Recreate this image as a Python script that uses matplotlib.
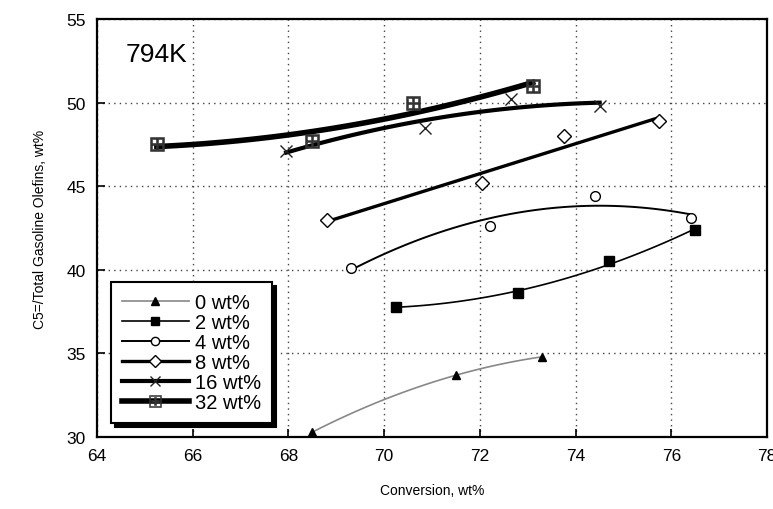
import numpy as np
import matplotlib
matplotlib.use("Agg")
import matplotlib.pyplot as plt

plt.rcParams['font.family'] = ['Liberation Sans', 'DejaVu Sans']

# conversion (wt%) and C5=/total gasoline olefins (wt%) for each additive level
labels = ['0 wt%', '2 wt%', '4 wt%', '8 wt%', '16 wt%', '32 wt%']
x_0 = [68.5, 71.5, 73.3]
y_0 = [30.3, 33.7, 34.8]
x_2 = [70.25, 72.8, 74.7, 76.5]
y_2 = [37.8, 38.6, 40.5, 42.4]
x_4 = [69.3, 72.2, 74.4, 76.4]
y_4 = [40.1, 42.6, 44.4, 43.1]
x_8 = [68.8, 72.05, 73.75, 75.75]
y_8 = [43.0, 45.2, 48.0, 48.9]
x_16 = [67.95, 70.85, 72.65, 74.5]
y_16 = [47.1, 48.5, 50.2, 49.8]
x_32 = [65.25, 68.5, 70.6, 73.1]
y_32 = [47.5, 47.7, 50.0, 51.0]

series = [
    (x_0, y_0, dict(marker='^', color='#888888', lw=1.2, mfc='black', mec='black', ms=6), 2),
    (x_2, y_2, dict(marker='s', color='black', lw=1.2, mfc='black', mec='black', ms=7), 2),
    (x_4, y_4, dict(marker='o', color='black', lw=1.4, mfc='white', mec='black', ms=7), 2),
    (x_8, y_8, dict(marker='D', color='black', lw=2.4, mfc='white', mec='black', ms=7, mew=1.0), 1),
    (x_16, y_16, dict(marker='x', color='black', lw=3.0, mfc='none', mec='#222222', ms=8, mew=1.0), 2),
    (x_32, y_32, dict(marker=r'$\boxplus$', color='black', lw=4.0, mfc='#333333', mec='#333333', ms=10, mew=0.4), 2),
]

fig = plt.figure(figsize=(7.73, 5.10), dpi=100)
ax = fig.add_axes([0.1255, 0.141, 0.867, 0.820])

handles = []
for (xs, ys, st, deg), lab in zip(series, labels):
    xs = np.array(xs)
    ys = np.array(ys)
    c = np.polyfit(xs, ys, deg)
    xf = np.linspace(xs.min(), xs.max(), 100)
    ax.plot(xf, np.polyval(c, xf), color=st['color'], lw=st['lw'], zorder=3)
    ax.plot(xs, ys, ls='none', marker=st['marker'], mfc=st['mfc'], mec=st['mec'],
            ms=st['ms'], mew=st.get('mew', 1.0), zorder=4)
    h, = ax.plot([], [], color=st['color'], lw=st['lw'], marker=st['marker'],
                 mfc=st['mfc'], mec=st['mec'], ms=st['ms'] * 0.85, mew=st.get('mew', 1.0))
    handles.append(h)

ax.set_xlim(64, 78)
ax.set_ylim(30, 55)
ax.set_xticks(range(64, 79, 2))
ax.set_yticks(range(30, 56, 5))
ax.grid(True, ls=(0, (1, 3)), color='#444444', lw=1.0)
ax.tick_params(direction='in', length=6, width=1.2, labelsize=12.5, pad=8)
for s in ax.spines.values():
    s.set_linewidth(1.6)

ax.set_xlabel('Conversion, wt%', fontsize=10, labelpad=14)
ax.set_ylabel('C5=/Total Gasoline Olefins, wt%', fontsize=10, labelpad=14)
ax.text(64.6, 52.9, '794K', fontsize=19, ha='left', va='center')

leg = ax.legend(handles, labels, loc='lower left', bbox_to_anchor=(0.0, 0.0),
                borderaxespad=0.7, fontsize=14.5, frameon=True, fancybox=False,
                handlelength=3.3, handletextpad=0.3, labelspacing=0.05, borderpad=0.55,
                shadow={'color': 'black', 'alpha': 1.0, 'ox': 3, 'oy': -3})
leg.get_frame().set_edgecolor('black')
leg.get_frame().set_linewidth(1.5)

fig.savefig('out.png', dpi=100)
